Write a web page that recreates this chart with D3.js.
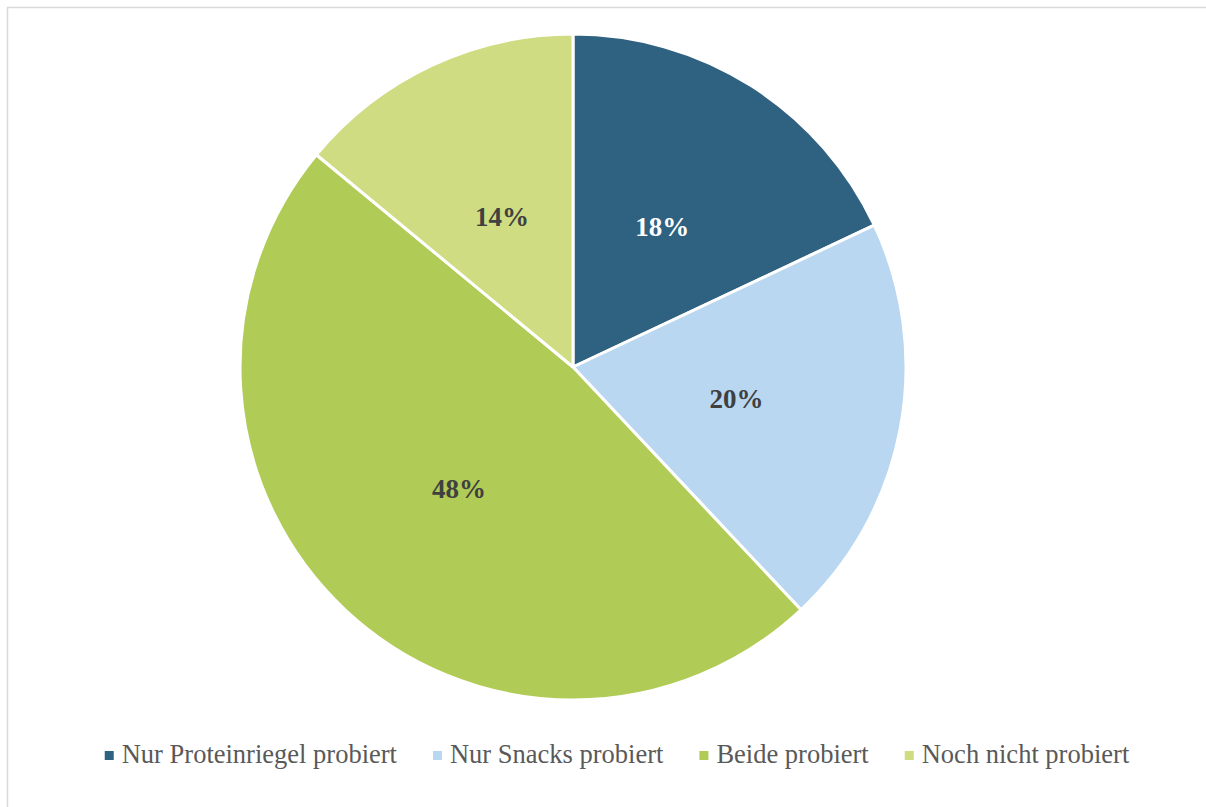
<!DOCTYPE html>
<html>
<head>
<meta charset="utf-8">
<script src="https://cdn.jsdelivr.net/npm/d3@7"></script>
<style>
  html, body { margin: 0; padding: 0; background: #fff; }
  svg { display: block; }
</style>
</head>
<body>
<svg id="chart" width="1206" height="807"></svg>
<script>
// Survey shares: who has tried which product
const categories = ["Nur Proteinriegel probiert", "Nur Snacks probiert", "Beide probiert", "Noch nicht probiert"];
const values = [18, 20, 48, 14];
const labels = ["18%", "20%", "48%", "14%"];
const colors = ["#2f6180", "#b9d7f0", "#b0cb56", "#cfdc81"];
const labelColors = ["#ffffff", "#404040", "#404040", "#404040"];

const svg = d3.select("#chart");
const W = 1206, H = 807;
const serif = "'Liberation Serif', 'Times New Roman', Times, serif";

// Chart frame
svg.append("rect")
  .attr("x", 7.5).attr("y", 7.5)
  .attr("width", W).attr("height", H)
  .attr("fill", "none")
  .attr("stroke", "#d9d9d9")
  .attr("stroke-width", 1.5);

const cx = 573, cy = 367, r = 333;
const data = categories.map((c, i) => ({ name: c, value: values[i], label: labels[i], color: colors[i], lc: labelColors[i] }));

const pie = d3.pie().value(d => d.value).sort(null);
const arc = d3.arc().innerRadius(0).outerRadius(r);
const labelArc = d3.arc().innerRadius(r * 0.5).outerRadius(r * 0.5);

const g = svg.append("g").attr("transform", `translate(${cx},${cy})`);
const arcs = pie(data);

g.selectAll("path.slice")
  .data(arcs)
  .join("path")
  .attr("class", "slice")
  .attr("d", arc)
  .attr("fill", d => d.data.color)
  .attr("stroke", "#ffffff")
  .attr("stroke-width", 3)
  .attr("stroke-linejoin", "round");

g.selectAll("text.pct")
  .data(arcs)
  .join("text")
  .attr("class", "pct")
  .attr("transform", d => `translate(${labelArc.centroid(d)})`)
  .attr("text-anchor", "middle")
  .attr("dy", "0.35em")
  .attr("font-family", serif)
  .attr("font-weight", "bold")
  .attr("font-size", 27)
  .attr("fill", d => d.data.lc)
  .text(d => d.data.label);

// Legend along the bottom
const legend = svg.append("g").attr("class", "legend");
const items = legend.selectAll("g.item")
  .data(data)
  .join("g")
  .attr("class", "item");

items.append("rect")
  .attr("width", 9).attr("height", 9)
  .attr("y", -12)
  .attr("fill", d => d.color);

items.append("text")
  .attr("x", 17)
  .attr("font-family", serif)
  .attr("font-size", 26.5)
  .attr("fill", "#595959")
  .text(d => d.name);

const gap = 36;
let widths = [];
items.each(function () {
  widths.push(17 + d3.select(this).select("text").node().getComputedTextLength());
});
const total = d3.sum(widths) + gap * (widths.length - 1);
let x = 617 - total / 2;
items.attr("transform", (d, i) => {
  const t = `translate(${x},763)`;
  x += widths[i] + gap;
  return t;
});
</script>
</body>
</html>
